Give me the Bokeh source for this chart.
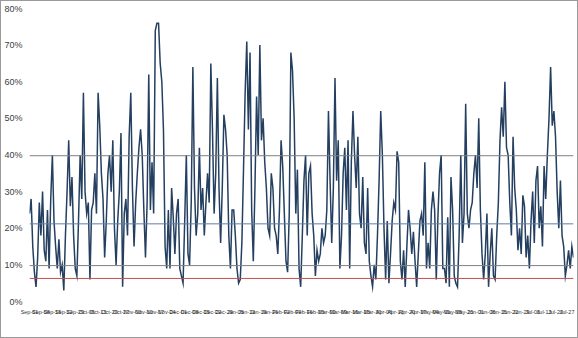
from bokeh.plotting import figure
from bokeh.models import Range1d, Span, FixedTicker
from bokeh.embed import file_html
from bokeh.resources import INLINE

# Daily values (%), in chronological segments
seg1 = [24, 28, 15, 8, 4, 12, 27, 18, 30, 14, 11, 25, 9, 28, 40, 22, 15, 9, 17, 8,
        10, 3, 18, 30, 44, 26, 34, 18, 9, 7, 22, 40, 28, 57, 30, 24, 27, 6, 25, 27,
        35, 24, 57, 48, 35, 28, 12, 22, 35, 40, 30, 44, 20, 10, 22, 30, 46, 4, 24, 28]
seg2 = [18, 45, 57, 31, 15, 27, 35, 42, 47, 40, 25, 12, 27, 62, 25, 38, 24, 74, 76, 76,
        65, 60, 47, 15, 9, 25, 9, 31, 23, 13, 24, 28, 9, 7, 5, 22, 40, 13, 10, 27,
        64, 31, 18, 24, 42, 25, 31, 18, 27, 35, 27, 65, 47, 24, 35, 61, 31, 16, 31, 51,
        47, 40, 18, 9, 25]
seg3 = [25, 18, 9, 5, 6, 16, 36, 57, 71, 47, 68, 25, 11, 31, 56, 40, 70, 44, 50, 38,
        31, 20, 18, 35, 31, 20, 18, 13, 25, 44, 37, 24, 11, 8, 24, 68, 63, 50, 24, 36,
        9, 4, 18, 33, 40, 18, 35, 37, 24, 18, 7, 14, 11, 13, 20, 16, 18, 25, 52, 33]
seg4 = [16, 31, 61, 33, 44, 9, 18, 35, 42, 25, 44, 9, 38, 52, 40, 31, 45, 24, 20, 34,
        16, 13, 31, 11, 7, 4, 10, 6, 18, 33, 52, 40, 20, 6, 22, 5, 13, 22, 27, 25,
        41, 38, 11, 6, 14, 4, 15, 25, 20, 13, 19, 11, 4, 13, 22, 24, 18, 38, 9]
seg5 = [16, 9, 25, 30, 25, 6, 23, 35, 40, 9, 9, 5, 23, 4, 34, 25, 7, 5, 4, 18,
        40, 16, 24, 54, 24, 20, 25, 27, 35, 40, 31, 50, 25, 13, 6, 13, 24, 4, 13, 20,
        7, 6, 18, 27, 44, 53, 45, 60, 42, 40, 27, 18, 45, 31, 25, 14, 20, 13, 29, 26]
seg6 = [12, 18, 9, 22, 30, 16, 33, 37, 20, 26, 15, 37, 28, 40, 50, 64, 48, 52, 45, 30,
        20, 33, 18, 15, 7, 10, 14, 9, 15, 12]

values = seg1 + seg2 + seg3 + seg4 + seg5 + seg6
days = list(range(len(values)))

# Reference levels (%)
upper_level = 39.8
mean_level = 21.2
lower_level = 9.8
floor_level = 6.3

y_ticks = [0, 10, 20, 30, 40, 50, 60, 70, 80]
y_tick_labels = ["0%", "10%", "20%", "30%", "40%", "50%", "60%", "70%", "80%"]

x_tick_labels = ["Sep-01", "Sep-08", "Sep-15", "Sep-22", "Sep-29", "Oct-06", "Oct-13", "Oct-20",
                 "Oct-27", "Nov-03", "Nov-10", "Nov-17", "Nov-24", "Dec-01", "Dec-08", "Dec-15",
                 "Dec-22", "Dec-29", "Jan-05", "Jan-12", "Jan-19", "Jan-26", "Feb-02", "Feb-09",
                 "Feb-16", "Feb-23", "Mar-02", "Mar-09", "Mar-16", "Mar-23", "Mar-30", "Apr-06",
                 "Apr-13", "Apr-20", "Apr-27", "May-04", "May-11", "May-18", "May-25", "Jun-01",
                 "Jun-08", "Jun-15", "Jun-22", "Jun-29", "Jul-06", "Jul-13", "Jul-20", "Jul-27"]
x_ticks = [i * 7 for i in range(len(x_tick_labels))]

FONT = "Liberation Sans"

p = figure(width=578, height=338, output_backend="svg", toolbar_location=None,
           x_range=Range1d(0, len(values) - 1), y_range=Range1d(0, 80),
           min_border_left=27, min_border_right=6, min_border_top=7, min_border_bottom=38,
           background_fill_color="white", border_fill_color="white",
           styles={"border": "1px solid #9a9a9a", "box-sizing": "border-box"})
p.outline_line_color = None
p.xgrid.visible = False
p.ygrid.visible = False

for lvl, col in [(upper_level, "#7f7f7f"), (mean_level, "#5b7fa8"),
                 (lower_level, "#7f7f7f"), (floor_level, "#c0504d")]:
    p.add_layout(Span(location=lvl, dimension="width", line_color=col, line_width=1))

p.line(days, values, line_color="#243F60", line_width=1.5, line_join="miter")

ya = p.yaxis[0]
ya.ticker = FixedTicker(ticks=y_ticks)
ya.major_label_overrides = {t: l for t, l in zip(y_ticks, y_tick_labels)}
ya.axis_line_color = None
ya.major_tick_line_color = None
ya.minor_tick_line_color = None
ya.major_tick_out = 0
ya.major_tick_in = 0
ya.major_label_text_font = FONT
ya.major_label_text_font_size = "9px"
ya.major_label_text_color = "#404040"
ya.major_label_standoff = 7

xa = p.xaxis[0]
xa.ticker = FixedTicker(ticks=x_ticks)
xa.major_label_overrides = {t: l for t, l in zip(x_ticks, x_tick_labels)}
xa.axis_line_color = None
xa.major_tick_line_color = None
xa.minor_tick_line_color = None
xa.major_tick_out = 0
xa.major_tick_in = 0
xa.major_label_text_font = FONT
xa.major_label_text_font_size = "5.5px"
xa.major_label_text_color = "#333333"
xa.major_label_standoff = 7

open("out.html", "w").write(file_html(p, INLINE))
